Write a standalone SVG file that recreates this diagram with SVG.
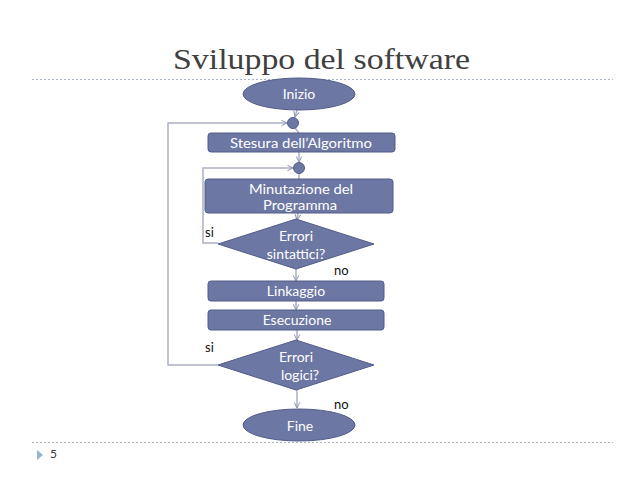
<svg xmlns="http://www.w3.org/2000/svg" width="638" height="479" viewBox="0 0 638 479">
<defs>
<style>
.node{fill:#6c77a3;stroke:#515c88;stroke-width:1}
.lbl{font-family:"Lato","Open Sans","DejaVu Sans",sans-serif;font-size:14px;fill:#ffffff;text-anchor:middle}
.side{font-family:"Lato","Open Sans","DejaVu Sans",sans-serif;font-size:13px;fill:#111111}
.conn{fill:none;stroke:#aab0c6;stroke-width:1.5}
.rule{stroke:#a8b4c4;stroke-width:1;stroke-dasharray:2 2}
</style>
<marker id="arr" viewBox="0 0 10 10" refX="9" refY="5" markerWidth="7" markerHeight="7" orient="auto" markerUnits="userSpaceOnUse">
<path d="M1,1 L9,5 L1,9" fill="none" stroke="#8d94b2" stroke-width="1.4"/>
</marker>
</defs>
<rect width="638" height="479" fill="#ffffff"/>
<text x="173" y="69" font-family="Liberation Serif,serif" font-size="30" fill="#404040" textLength="297" lengthAdjust="spacingAndGlyphs">Sviluppo del software</text>
<line class="rule" x1="32" y1="79.5" x2="613" y2="79.5"/>
<line class="rule" x1="32" y1="442.5" x2="613" y2="442.5"/>
<polygon points="37,450 43,455 37,460" fill="#94b4d0"/>
<text x="50" y="458" font-family="Lato,sans-serif" font-size="12" fill="#333333">5</text>

<g id="connectors">
<line class="conn" x1="297" y1="110" x2="295" y2="117" marker-end="url(#arr)"/>
<line class="conn" x1="295" y1="128" x2="299" y2="133"/>
<line class="conn" x1="299" y1="151" x2="299" y2="162" marker-end="url(#arr)"/>
<line class="conn" x1="299" y1="174" x2="299" y2="179"/>
<line class="conn" x1="298" y1="213" x2="297" y2="220" marker-end="url(#arr)"/>
<line class="conn" x1="296" y1="269" x2="296" y2="281" marker-end="url(#arr)"/>
<line class="conn" x1="296" y1="301" x2="296" y2="310" marker-end="url(#arr)"/>
<line class="conn" x1="297" y1="330" x2="297" y2="340" marker-end="url(#arr)"/>
<line class="conn" x1="297" y1="390" x2="297" y2="408" marker-end="url(#arr)"/>
<polyline class="conn" points="218,365 168,365 168,123 287,123" marker-end="url(#arr)"/>
<polyline class="conn" points="218,243 203,243 203,168 293,168" marker-end="url(#arr)"/>
</g>

<g id="inizio">
<ellipse class="node" cx="299" cy="94" rx="56" ry="16"/>
<text class="lbl" x="299" y="99">Inizio</text>
</g>
<g id="junction1"><circle class="node" cx="293" cy="123" r="5.5"/></g>
<g id="stesura">
<rect class="node" x="208" y="133" width="187" height="19" rx="3"/>
<text class="lbl" x="301" y="148" textLength="142" lengthAdjust="spacingAndGlyphs">Stesura dell’Algoritmo</text>
</g>
<g id="junction2"><circle class="node" cx="299" cy="168" r="5.5"/></g>
<g id="minutazione">
<rect class="node" x="205" y="179" width="188" height="34" rx="3"/>
<text class="lbl" x="301" y="194" textLength="104" lengthAdjust="spacingAndGlyphs">Minutazione del</text>
<text class="lbl" x="300" y="210" textLength="74" lengthAdjust="spacingAndGlyphs">Programma</text>
</g>
<g id="errori-sintattici">
<polygon class="node" points="296,219 374,244 296,269 218,244"/>
<text class="lbl" x="296" y="241">Errori</text>
<text class="lbl" x="296" y="259">sintattici?</text>
<text class="side" x="205" y="237">si</text>
<text class="side" x="334" y="275">no</text>
</g>
<g id="linkaggio">
<rect class="node" x="208" y="281" width="176" height="20" rx="3"/>
<text class="lbl" x="296" y="296">Linkaggio</text>
</g>
<g id="esecuzione">
<rect class="node" x="208" y="310" width="176" height="20" rx="3"/>
<text class="lbl" x="297" y="325">Esecuzione</text>
</g>
<g id="errori-logici">
<polygon class="node" points="296,340 374,365 296,390 218,365"/>
<text class="lbl" x="296" y="362">Errori</text>
<text class="lbl" x="300" y="380">logici?</text>
<text class="side" x="205" y="352">si</text>
<text class="side" x="334" y="409">no</text>
</g>
<g id="fine">
<ellipse class="node" cx="299" cy="425" rx="56" ry="16"/>
<text class="lbl" x="300" y="431">Fine</text>
</g>
</svg>
